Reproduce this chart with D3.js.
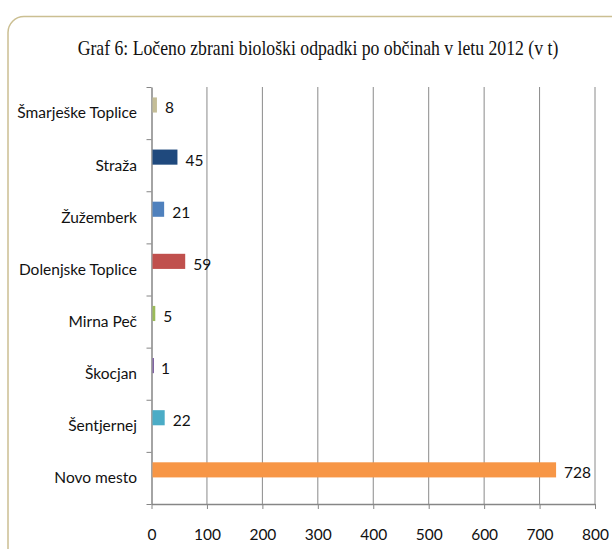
<!DOCTYPE html>
<html>
<head>
<meta charset="utf-8">
<script src="https://cdn.jsdelivr.net/npm/d3@7"></script>
<style>
  body { margin: 0; background: #fff; }
  svg { display: block; }
</style>
</head>
<body>
<div id="chart"></div>
<script>
const categories = ["Šmarješke Toplice", "Straža", "Žužemberk", "Dolenjske Toplice", "Mirna Peč", "Škocjan", "Šentjernej", "Novo mesto"];
const values = [8, 45, 21, 59, 5, 1, 22, 728];
const barColors = ["#c4bd97", "#1f497d", "#4f81bd", "#c0504d", "#9bbb59", "#8064a2", "#4bacc6", "#f79646"];
const xTicks = [0, 100, 200, 300, 400, 500, 600, 700, 800];
const title = "Graf 6: Ločeno zbrani biološki odpadki po občinah v letu 2012 (v t)";

const w = 612, h = 549;
const margin = { top: 87, right: 17, bottom: 45, left: 151.5 };
const labelFont = "Lato, 'Open Sans', sans-serif";

const svg = d3.select("#chart").append("svg")
    .attr("width", w)
    .attr("height", h);

// frame
svg.append("rect")
    .attr("x", 8)
    .attr("y", 16.5)
    .attr("width", w + 20)
    .attr("height", h + 20)
    .attr("rx", 16)
    .attr("fill", "#fff")
    .attr("stroke", "#cbbf92")
    .attr("stroke-width", 1.5);

// title, squeezed horizontally to the narrow width of the original
const titleG = svg.append("g");
const titleText = titleG.append("text")
    .attr("x", 0)
    .attr("y", 0)
    .attr("text-anchor", "middle")
    .attr("font-family", "'Liberation Serif', serif")
    .attr("font-size", 20)
    .attr("fill", "#111")
    .text(title);
const natural = titleText.node().getComputedTextLength() || 481;
titleG.attr("transform", `translate(318,55) scale(${Math.min(1, 481 / natural)},1)`);

const x = d3.scaleLinear()
    .domain([0, 800])
    .range([margin.left, w - margin.right]);

const y = d3.scaleBand()
    .domain(categories)
    .range([margin.top, h - margin.bottom]);

const yIdx = d3.scaleLinear()
    .domain([0, categories.length])
    .range([margin.top, h - margin.bottom]);

// gridlines
svg.append("g")
    .selectAll("line")
    .data(xTicks.slice(1))
    .enter()
    .append("line")
    .attr("x1", d => x(d))
    .attr("x2", d => x(d))
    .attr("y1", margin.top)
    .attr("y2", h - margin.bottom)
    .attr("stroke", "#8a8a8a")
    .attr("stroke-width", 1);

// x axis
const xAxis = svg.append("g")
    .attr("transform", `translate(0,${h - margin.bottom})`)
    .call(d3.axisBottom(x).tickValues(xTicks).tickSize(5).tickPadding(20).tickSizeOuter(0));

xAxis.select(".domain").attr("stroke", "#868686").attr("stroke-width", 1.5);
xAxis.selectAll(".tick line").attr("stroke", "#868686");
xAxis.selectAll("text")
    .attr("font-family", labelFont)
    .attr("font-size", 15.5)
    .attr("fill", "#111");

// y axis line + boundary ticks
const yAxis = svg.append("g")
    .attr("transform", `translate(${margin.left},0)`)
    .call(d3.axisLeft(yIdx).tickValues(d3.range(categories.length + 1)).tickSize(5).tickFormat("").tickSizeOuter(0));

yAxis.select(".domain").attr("stroke", "#868686").attr("stroke-width", 1.5);
yAxis.selectAll(".tick line").attr("stroke", "#868686");

// category labels
svg.append("g")
    .selectAll("text")
    .data(categories)
    .enter()
    .append("text")
    .attr("x", margin.left - 14.5)
    .attr("y", d => y(d) + y.bandwidth() / 2)
    .attr("dy", "0.35em")
    .attr("text-anchor", "end")
    .attr("font-family", labelFont)
    .attr("font-size", 15.5)
    .attr("fill", "#111")
    .text(d => d);

// bars
const barH = y.bandwidth() * 0.29;
const barOff = y.bandwidth() * 0.2;

svg.append("g")
    .selectAll("rect")
    .data(values)
    .enter()
    .append("rect")
    .attr("x", x(0) + 1)
    .attr("y", (d, i) => y(categories[i]) + barOff)
    .attr("width", d => Math.max(1.5, x(d) - x(0)))
    .attr("height", barH)
    .attr("fill", (d, i) => barColors[i]);

// value labels
svg.append("g")
    .selectAll("text")
    .data(values)
    .enter()
    .append("text")
    .attr("x", d => x(d) + 9)
    .attr("y", (d, i) => y(categories[i]) + barOff + barH / 2 + 3)
    .attr("dy", "0.35em")
    .attr("font-family", labelFont)
    .attr("font-size", 15.5)
    .attr("fill", "#111")
    .text(d => d);
</script>
</body>
</html>
